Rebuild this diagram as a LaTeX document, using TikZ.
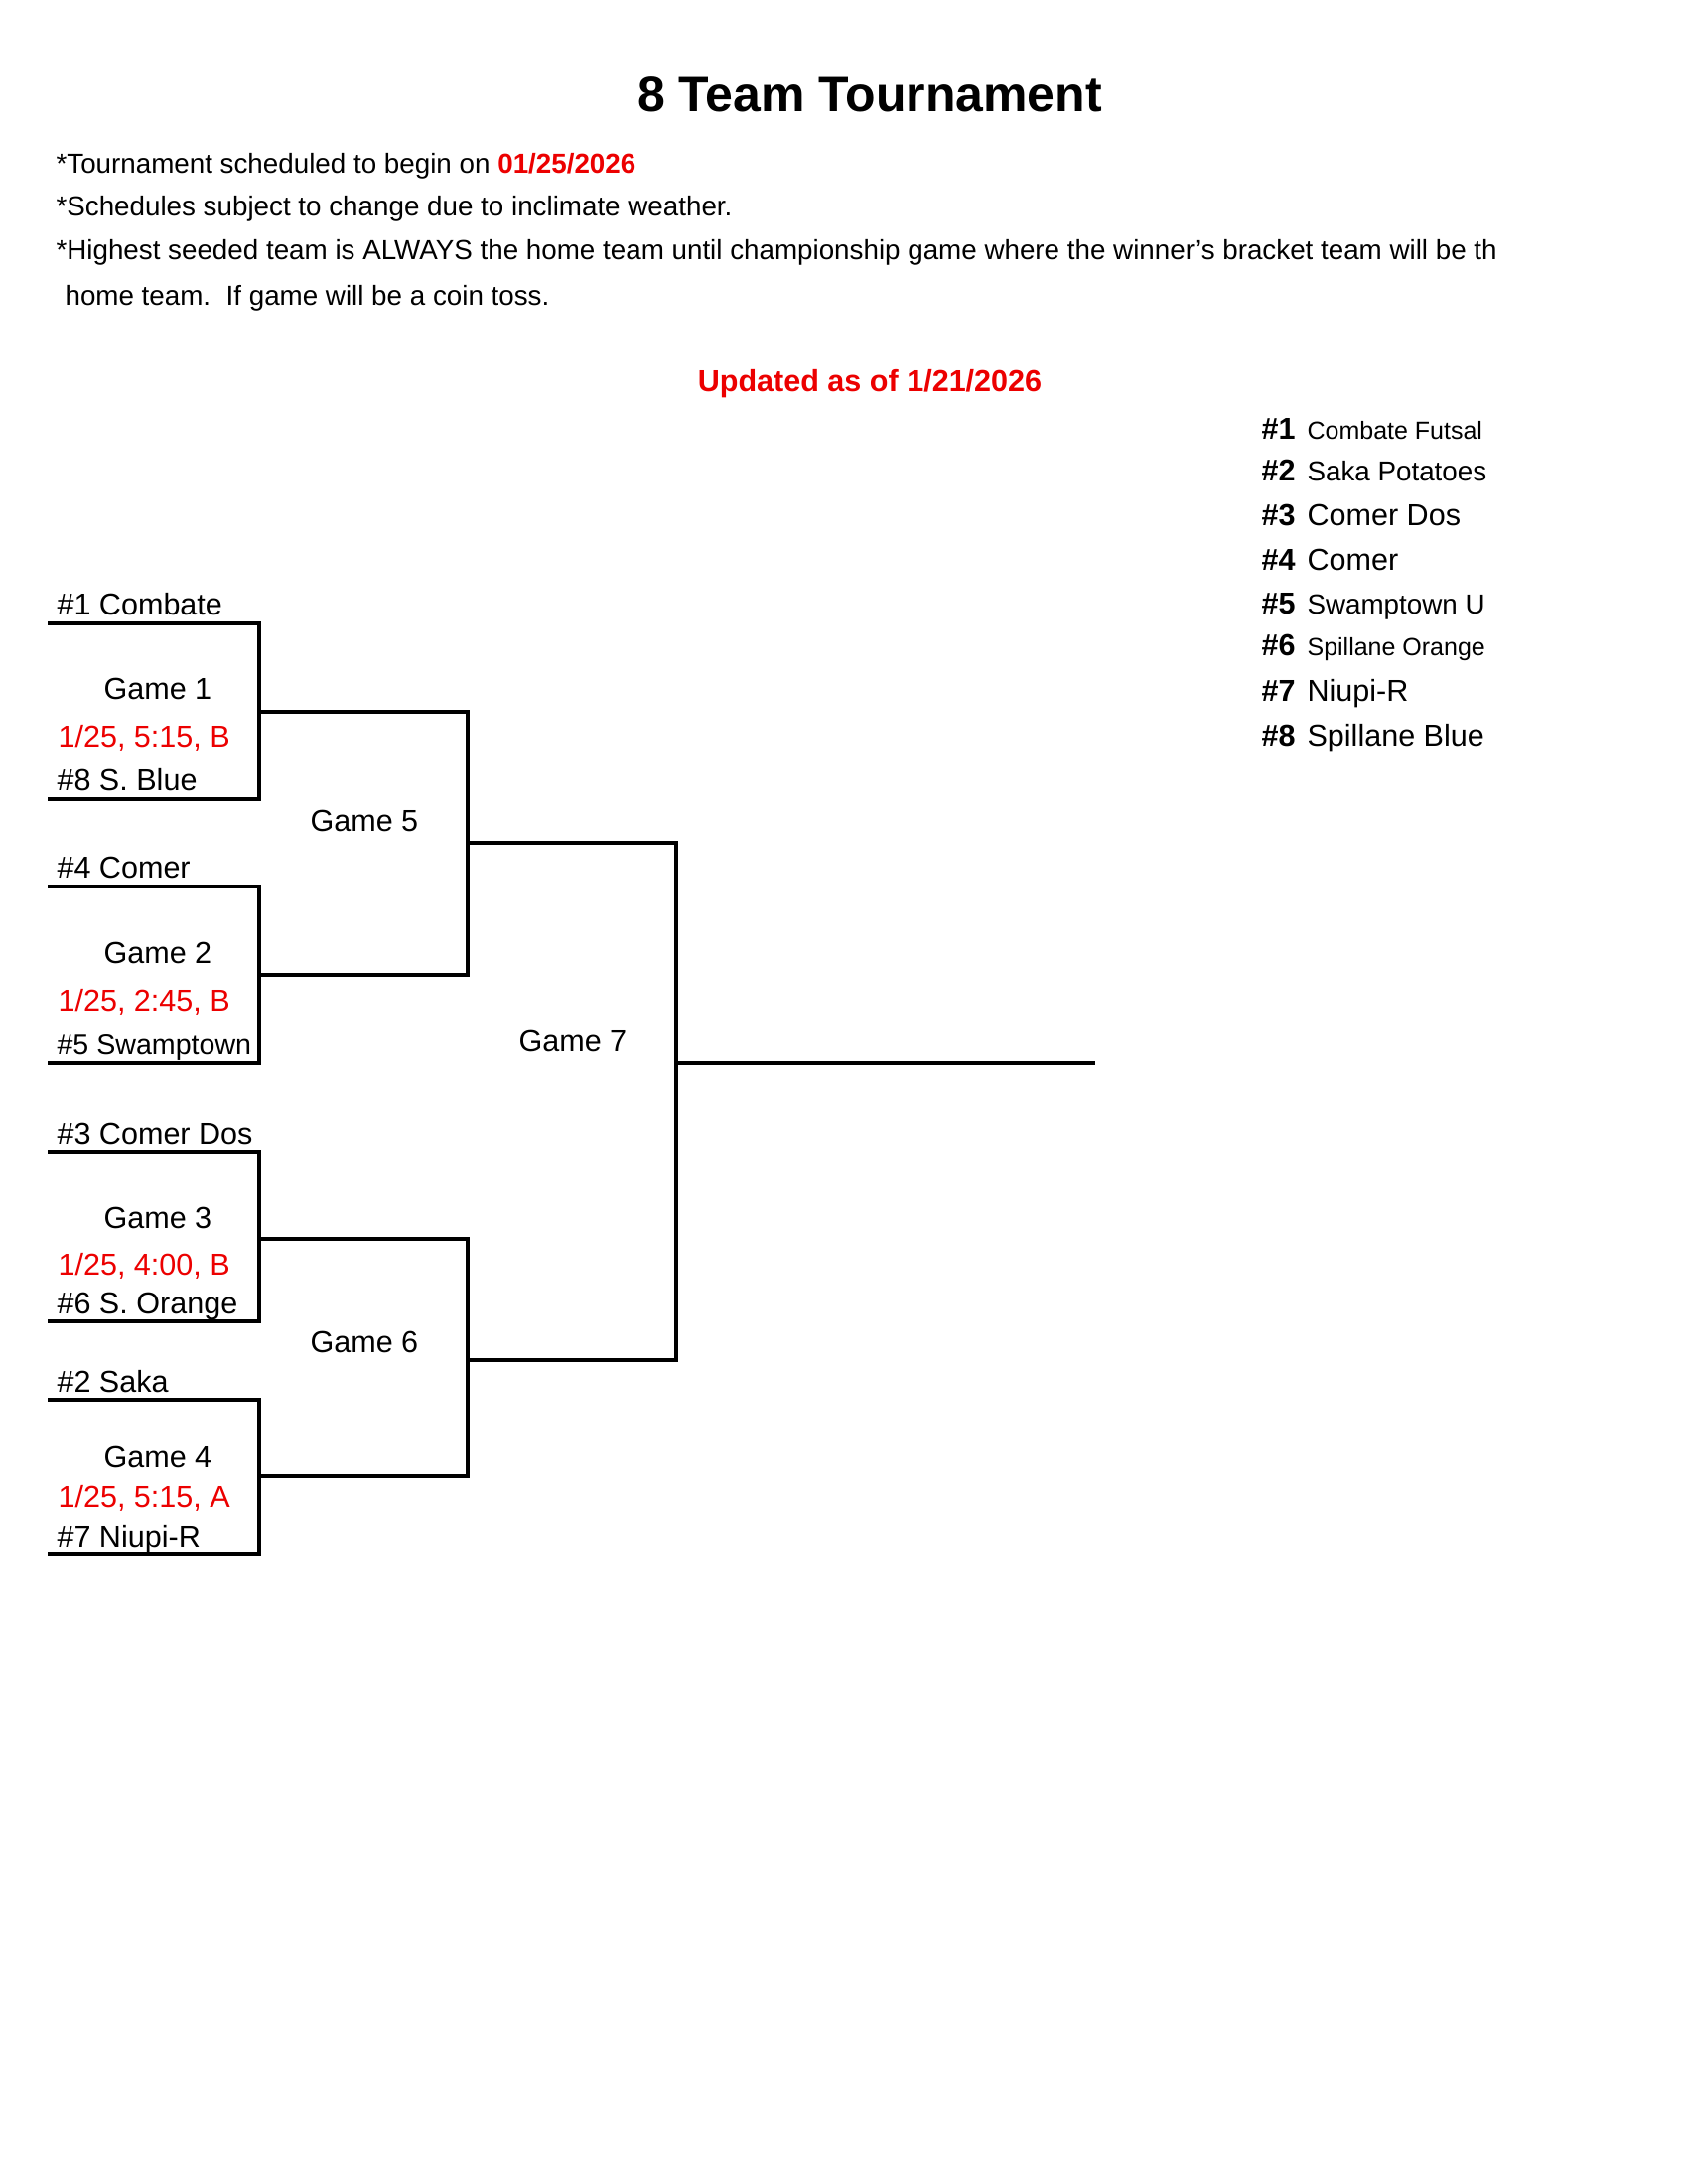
\documentclass[tikz,border=0pt]{standalone}
\usepackage{fontspec}
\setmainfont{Liberation Sans}
\definecolor{mred}{RGB}{236,0,0}
\newcommand{\fs}[1]{\fontsize{#1}{#1}\selectfont}
\begin{document}
\begin{tikzpicture}[x=0.36pt,y=-0.36pt,
  lbl/.style={anchor=base west,inner sep=0pt,font=\fs{11pt}},
  lblred/.style={lbl,text=mred},
  hdr/.style={anchor=base west,inner sep=0pt,font=\fs{10pt}},
  seednum/.style={anchor=base west,inner sep=0pt,font=\fs{11pt}\bfseries},
  seedname/.style={anchor=base west,inner sep=0pt},
  bracket/.style={line width=1.3pt,line join=miter,line cap=rect}]
\useasboundingbox[fill=white] (0,0) rectangle (1700,2200);

% Title and header
\node[anchor=base,inner sep=0pt,font=\fs{18pt}\bfseries] (title) at (876,113) {8 Team Tournament};
\node[hdr] (h1) at (56,175) {*Tournament scheduled to begin on \textcolor{mred}{\bfseries 01/25/2026}};
\node[hdr] (h2) at (56,218) {*Schedules subject to change due to inclimate weather.};
\node[hdr] (h3) at (56,262) {*Highest seeded team is ALWAYS the home team until championship game where the winner's bracket team will be th};
\node[hdr] (h4) at (65,307) {home team.\ \ If game will be a coin toss.};
\node[anchor=base,inner sep=0pt,font=\fs{11pt}\bfseries,text=mred] (upd) at (876,394) {Updated as of 1/21/2026};

% Seed list
\node[seednum] (s1) at (1270,442) {\#1};
\node[seedname,font=\fs{9pt}] (n1) at (1316,442) {Combate Futsal};
\node[seednum] (s2) at (1270,484) {\#2};
\node[seedname,font=\fs{10pt}] (n2) at (1316,484) {Saka Potatoes};
\node[seednum] (s3) at (1270,529) {\#3};
\node[seedname,font=\fs{11pt}] (n3) at (1316,529) {Comer Dos};
\node[seednum] (s4) at (1270,574) {\#4};
\node[seedname,font=\fs{11pt}] (n4) at (1316,574) {Comer};
\node[seednum] (s5) at (1270,618) {\#5};
\node[seedname,font=\fs{10pt}] (n5) at (1316,618) {Swamptown U};
\node[seednum] (s6) at (1270,660) {\#6};
\node[seedname,font=\fs{9pt}] (n6) at (1316,660) {Spillane Orange};
\node[seednum] (s7) at (1270,706) {\#7};
\node[seedname,font=\fs{11pt}] (n7) at (1316,706) {Niupi-R};
\node[seednum] (s8) at (1270,751) {\#8};
\node[seedname,font=\fs{11pt}] (n8) at (1316,751) {Spillane Blue};

% Bracket corner coordinates
\coordinate (g1a) at (50,628);  \coordinate (g1b) at (261,628);
\coordinate (g1c) at (261,805); \coordinate (g1d) at (50,805);
\coordinate (g2a) at (50,893);  \coordinate (g2b) at (261,893);
\coordinate (g2c) at (261,1071);\coordinate (g2d) at (50,1071);
\coordinate (g3a) at (50,1160); \coordinate (g3b) at (261,1160);
\coordinate (g3c) at (261,1331);\coordinate (g3d) at (50,1331);
\coordinate (g4a) at (50,1410); \coordinate (g4b) at (261,1410);
\coordinate (g4c) at (261,1565);\coordinate (g4d) at (50,1565);
\coordinate (g5a) at (261,717); \coordinate (g5b) at (471,717);
\coordinate (g5c) at (471,982); \coordinate (g5d) at (261,982);
\coordinate (g6a) at (261,1248);\coordinate (g6b) at (471,1248);
\coordinate (g6c) at (471,1487);\coordinate (g6d) at (261,1487);
\coordinate (g7a) at (471,849); \coordinate (g7b) at (681,849);
\coordinate (g7c) at (681,1370);\coordinate (g7d) at (471,1370);
\coordinate (fa) at (681,1071);  \coordinate (fb) at (1101,1071);

\draw[bracket] (g1a) -- (g1b) -- (g1c) -- (g1d);
\draw[bracket] (g2a) -- (g2b) -- (g2c) -- (g2d);
\draw[bracket] (g3a) -- (g3b) -- (g3c) -- (g3d);
\draw[bracket] (g4a) -- (g4b) -- (g4c) -- (g4d);
\draw[bracket] (g5a) -- (g5b) -- (g5c) -- (g5d);
\draw[bracket] (g6a) -- (g6b) -- (g6c) -- (g6d);
\draw[bracket] (g7a) -- (g7b) -- (g7c) -- (g7d);
\draw[bracket] (fa) -- (fb);

% Game 1
\node[lbl] (t1) at (57,619) {\#1 Combate};
\node[lbl] (gm1) at (104,704) {Game 1};
\node[lblred] (d1) at (58,752) {1/25, 5:15, B};
\node[lbl] (t8) at (57,796) {\#8 S. Blue};
% Game 2
\node[lbl] (t4) at (57,884) {\#4 Comer};
\node[lbl] (gm2) at (104,970) {Game 2};
\node[lblred] (d2) at (58,1018) {1/25, 2:45, B};
\node[lbl,font=\fs{10.3pt}] (t5) at (57,1062) {\#5 Swamptown};
% Game 3
\node[lbl] (t3) at (57,1152) {\#3 Comer Dos};
\node[lbl] (gm3) at (104,1237) {Game 3};
\node[lblred] (d3) at (58,1284) {1/25, 4:00, B};
\node[lbl] (t6) at (57,1323) {\#6 S. Orange};
% Game 4
\node[lbl] (t2) at (57,1402) {\#2 Saka};
\node[lbl] (gm4) at (104,1478) {Game 4};
\node[lblred] (d4) at (58,1518) {1/25, 5:15, A};
\node[lbl] (t7) at (57,1558) {\#7 Niupi-R};
% Later games
\node[lbl] (gm5) at (312,837) {Game 5};
\node[lbl] (gm6) at (312,1362) {Game 6};
\node[lbl] (gm7) at (522,1059) {Game 7};
\end{tikzpicture}
\end{document}
